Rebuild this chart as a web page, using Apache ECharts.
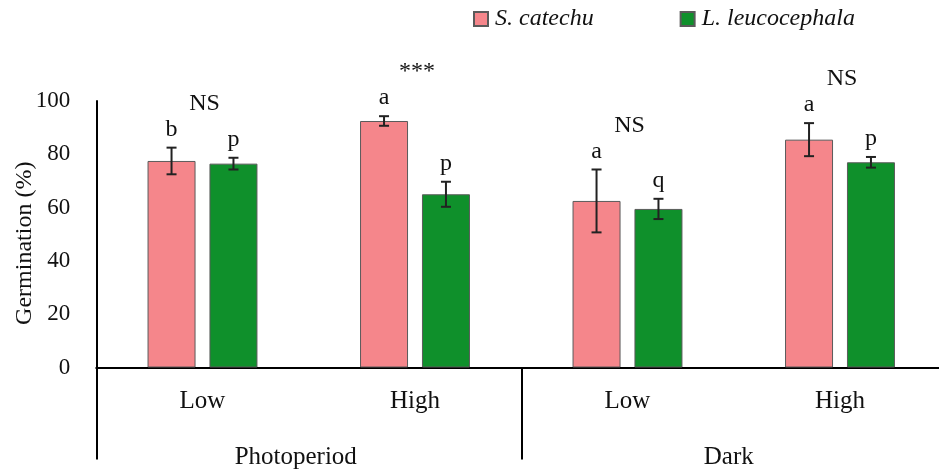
<!DOCTYPE html>
<html>
<head>
<meta charset="utf-8">
<script src="https://cdn.jsdelivr.net/npm/echarts@6/dist/echarts.min.js"></script>
<style>
  html, body { margin: 0; padding: 0; background: #fff; }
  #chart { width: 939px; height: 472px; }
</style>
</head>
<body>
<div id="chart"></div>
<script>
// Germination (%) of two species under light treatments
const treatments = ['Low', 'High', 'Low', 'High'];
const conditions = ['Photoperiod', 'Dark'];
const speciesNames = ['S. catechu', 'L. leucocephala'];

const catechuMean = [77.5, 92.5, 62.5, 85.5];
const catechuSE = [5.0, 1.8, 11.8, 6.2];
const catechuLetters = ['b', 'a', 'a', 'a'];

const leucoMean = [76.5, 65.0, 59.5, 77.0];
const leucoSE = [2.2, 4.7, 3.8, 2.0];
const leucoLetters = ['p', 'p', 'q', 'p'];

const significance = ['NS', '***', 'NS', 'NS'];

const yTicks = { min: 0, max: 100, step: 20 };

// styling
const FONT = "'Liberation Serif', 'Times New Roman', serif";
const PINK = '#F5868B';
const GREEN = '#0F902B';
const EDGE = '#5a5a5a';
const BAR_W = 48;
const BAR_GAP = 0.29;          // fraction of bar width
const SHIFT = BAR_W * (1 + BAR_GAP) / 2;
const LETTER_GAP = 6;          // px between error-bar top and letter box
const GROUP_GAP = 26;          // px between letter box bottom and group mark box bottom

const chart = echarts.init(document.getElementById('chart'), null, { renderer: 'canvas' });

function errorBarRenderer(means, errs, letters, sign) {
  return function (params, api) {
    const i = params.dataIndex;
    const top = api.coord([i, means[i] + errs[i]]);
    const bot = api.coord([i, means[i] - errs[i]]);
    const x = top[0] + sign * SHIFT;
    const cap = 5;
    const line = { stroke: '#222', lineWidth: 2 };
    return {
      type: 'group',
      children: [
        { type: 'line', shape: { x1: x, y1: top[1], x2: x, y2: bot[1] }, style: line },
        { type: 'line', shape: { x1: x - cap, y1: top[1], x2: x + cap, y2: top[1] }, style: line },
        { type: 'line', shape: { x1: x - cap, y1: bot[1], x2: x + cap, y2: bot[1] }, style: line },
        {
          type: 'text', x: x, y: top[1] - LETTER_GAP,
          style: { text: letters[i], fill: '#111', font: '24px ' + FONT, align: 'center', verticalAlign: 'bottom' }
        }
      ]
    };
  };
}

function groupMarkRenderer(params, api) {
  const i = params.dataIndex;
  const a = api.coord([i, catechuMean[i] + catechuSE[i]]);
  const b = api.coord([i, leucoMean[i] + leucoSE[i]]);
  const highest = Math.min(a[1], b[1]) - LETTER_GAP;
  const x = a[0] + 2;
  return {
    type: 'text', x: x, y: highest - GROUP_GAP,
    style: { text: significance[i], fill: '#111', font: '24px ' + FONT, align: 'center', verticalAlign: 'bottom' }
  };
}

const option = {
  backgroundColor: '#fff',
  animation: false,
  legend: {
    left: 468, top: 2,
    itemWidth: 14, itemHeight: 14, itemGap: 86,
    icon: 'rect',
    textStyle: { fontFamily: FONT, fontSize: 24, fontStyle: 'italic', color: '#111', padding: [0, 0, 0, 2] },
    data: speciesNames
  },
  grid: { left: 96.25, right: -7.25, top: 101, bottom: 104.5, outerBoundsMode: 'none', containLabel: false },
  xAxis: [
    {
      type: 'category', data: treatments, position: 'bottom',
      axisLine: { lineStyle: { color: '#000', width: 2 } },
      axisTick: { show: false },
      axisLabel: { fontFamily: FONT, fontSize: 25, color: '#111', margin: 21 }
    },
    {
      type: 'category', data: conditions, position: 'bottom',
      axisLine: { show: false },
      axisTick: { show: true, length: 92, interval: 0, lineStyle: { color: '#000', width: 2 } },
      axisLabel: {
        fontFamily: FONT, fontSize: 25, color: '#111', margin: 77,
        formatter: function (v) { return v === 'Photoperiod' ? '{p|' + v + '}' : '{d|' + v + '}'; },
        rich: {
          p: { fontFamily: FONT, fontSize: 25, color: '#111', padding: [0, 26, 0, 0] },
          d: { fontFamily: FONT, fontSize: 25, color: '#111', padding: [0, 10, 0, 0] }
        }
      }
    }
  ],
  yAxis: {
    type: 'value', min: yTicks.min, max: yTicks.max, interval: yTicks.step,
    name: 'Germination (%)', nameLocation: 'middle', nameGap: 60, nameMoveOverlap: false,
    nameTextStyle: { fontFamily: FONT, fontSize: 24, color: '#111', padding: [0, 18, 0, 0] },
    axisLine: { show: true, lineStyle: { color: '#000', width: 2 } },
    axisTick: { show: false },
    splitLine: { show: false },
    axisLabel: { fontFamily: FONT, fontSize: 23, color: '#111', margin: 26 }
  },
  series: [
    {
      name: speciesNames[0], type: 'bar', data: catechuMean,
      barWidth: BAR_W, barGap: (BAR_GAP * 100) + '%',
      itemStyle: { color: PINK, borderColor: EDGE, borderWidth: 1 }
    },
    {
      name: speciesNames[1], type: 'bar', data: leucoMean,
      barWidth: BAR_W, barGap: (BAR_GAP * 100) + '%',
      itemStyle: { color: GREEN, borderColor: EDGE, borderWidth: 1 }
    },
    {
      type: 'custom', clip: false, z: 5,
      data: catechuMean.map((v, i) => [i, v]),
      renderItem: errorBarRenderer(catechuMean, catechuSE, catechuLetters, -1),
      silent: true
    },
    {
      type: 'custom', clip: false, z: 5,
      data: leucoMean.map((v, i) => [i, v]),
      renderItem: errorBarRenderer(leucoMean, leucoSE, leucoLetters, 1),
      silent: true
    },
    {
      type: 'custom', clip: false, z: 5,
      data: significance.map((s, i) => [i, 0]),
      renderItem: groupMarkRenderer,
      silent: true
    }
  ]
};

chart.setOption(option);
</script>
</body>
</html>
